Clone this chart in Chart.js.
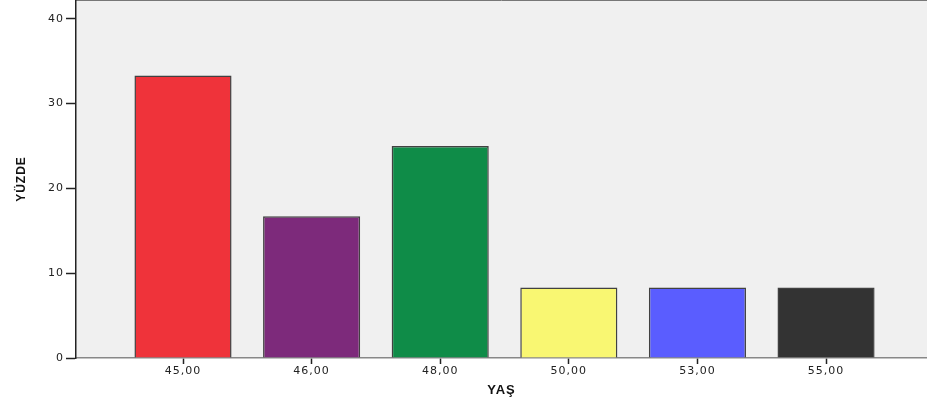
<!DOCTYPE html>
<html>
<head>
<meta charset="utf-8">
<script src="https://cdn.jsdelivr.net/npm/chart.js@4/dist/chart.umd.min.js"></script>
<style>
  html, body { margin: 0; padding: 0; background: #ffffff; }
  canvas { display: block; }
</style>
</head>
<body>
<canvas id="chart" width="927" height="409"></canvas>
<script>
  "use strict";

  const ageLabels = ["45,00", "46,00", "48,00", "50,00", "53,00", "55,00"];
  const percentValues = [33.3, 16.7, 25.0, 8.3, 8.3, 8.3];
  const barColors = ["#ef333a", "#7d2a7b", "#0f8c48", "#f9f772", "#5a5dff", "#333333"];
  const yTicks = [0, 10, 20, 30, 40];

  const plotBackground = {
    id: "plotBackground",
    beforeDraw(chart) {
      const { ctx, chartArea } = chart;
      ctx.save();
      ctx.fillStyle = "#f0f0f0";
      ctx.fillRect(chartArea.left, chartArea.top, chartArea.right - chartArea.left, chartArea.bottom - chartArea.top);
      ctx.strokeStyle = "#777777";
      ctx.lineWidth = 1;
      ctx.beginPath();
      ctx.moveTo(chartArea.left, chartArea.top + 0.5);
      ctx.lineTo(chartArea.right, chartArea.top + 0.5);
      ctx.stroke();
      ctx.restore();
      // slightly wide lettering as in the source image
      ctx.letterSpacing = "1px";
    }
  };

  const tickFont = { family: "'DejaVu Sans', Verdana, sans-serif", size: 11 };
  const titleFont = { family: "'Liberation Sans', Arial, sans-serif", size: 13, weight: "bold" };

  new Chart(document.getElementById("chart"), {
    type: "bar",
    data: {
      datasets: [
        {
          label: "YÜZDE",
          data: percentValues.map(function (v, i) {
            return { x: i, y: v };
          }),
          backgroundColor: barColors,
          borderColor: "rgba(45, 45, 45, 0.9)",
          borderWidth: 1.5,
          borderSkipped: "start",
          categoryPercentage: 1,
          barPercentage: 0.755
        }
      ]
    },
    options: {
      responsive: false,
      animation: false,
      events: [],
      layout: { padding: 0 },
      plugins: {
        legend: { display: false },
        tooltip: { enabled: false }
      },
      scales: {
        x: {
          type: "linear",
          min: -0.832,
          max: 5.785,
          offset: false,
          afterFit: function (scale) {
            scale.height = 51;
            scale.paddingLeft = 0;
            scale.paddingRight = 0;
          },
          afterBuildTicks: function (scale) {
            scale.ticks = ageLabels.map(function (_, i) {
              return { value: i };
            });
          },
          grid: {
            offset: false,
            drawOnChartArea: false,
            drawTicks: true,
            tickLength: 6,
            tickWidth: 1.5,
            color: "#222222"
          },
          border: { display: true, color: "#888888", width: 1.5 },
          ticks: {
            autoSkip: false,
            maxRotation: 0,
            padding: 1,
            color: "#222222",
            font: tickFont,
            callback: function (value) {
              return ageLabels[value];
            }
          },
          title: {
            display: true,
            text: "YAŞ",
            color: "#111111",
            padding: { top: 0, bottom: 11 },
            font: titleFont
          }
        },
        y: {
          min: 0,
          max: 42.2,
          afterFit: function (scale) {
            scale.width = 76;
            scale.paddingTop = 0;
            scale.paddingBottom = 0;
          },
          afterBuildTicks: function (scale) {
            scale.ticks = yTicks.map(function (v) {
              return { value: v };
            });
          },
          grid: {
            drawOnChartArea: false,
            drawTicks: true,
            tickLength: 10,
            tickWidth: 1.5,
            color: "#222222"
          },
          border: { display: true, color: "#222222", width: 1.5 },
          ticks: {
            padding: 2,
            color: "#222222",
            font: tickFont
          },
          title: {
            display: true,
            text: "YÜZDE",
            color: "#111111",
            padding: { top: 14, bottom: 0 },
            font: { family: "'Liberation Sans', Arial, sans-serif", size: 12, weight: "bold" }
          }
        }
      }
    },
    plugins: [plotBackground]
  });
</script>
</body>
</html>
